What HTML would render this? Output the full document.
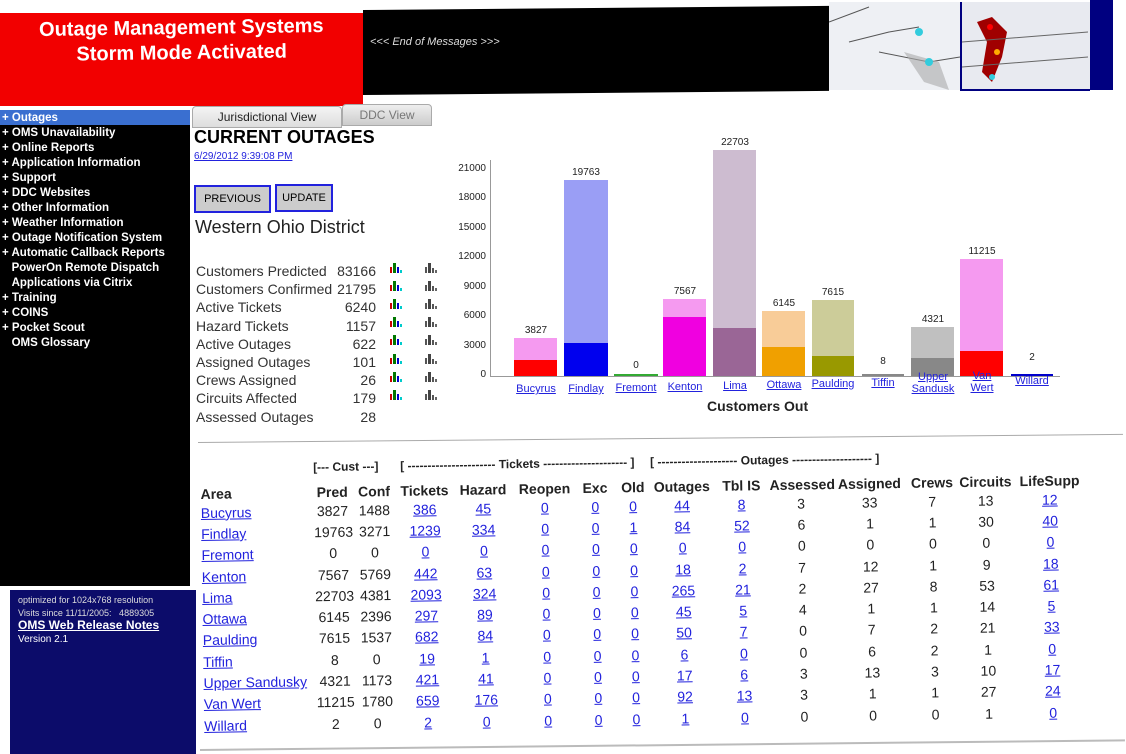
<!DOCTYPE html>
<html><head><meta charset="utf-8"><style>
body{margin:0;width:1126px;height:754px;background:#fff;position:relative;overflow:hidden;font-family:"Liberation Sans",Arial,sans-serif;}
.a{position:absolute;}
.side div{font-weight:bold;color:#fff;font-size:11.5px;height:15px;line-height:15px;white-space:nowrap;}
.stat{font-size:14px;color:#333;}
a,.lnk{color:#22d;text-decoration:underline;}
table{border-collapse:collapse;font-size:14px;color:#222;table-layout:fixed;width:885px;}
td{padding:0;height:21.3px;text-align:center;white-space:nowrap;overflow:visible;}
th{font-weight:bold;font-size:14px;padding:0;text-align:center;color:#222;white-space:nowrap;overflow:visible}
.lbl{font-size:11px;color:#22d;text-decoration:underline;text-align:center;width:60px;}
.tick{font-size:10px;color:#222;text-align:right;width:40px;}
.val{font-size:10px;color:#222;text-align:center;width:50px;}
</style></head><body>
<!-- header -->
<div class="a" style="left:0;top:13px;width:363px;height:93px;background:#f20000"></div>
<div class="a" style="left:0;top:16px;width:363px;color:#fff;font-weight:bold;font-size:20px;text-align:center;line-height:25px;transform:rotate(-0.8deg)">Outage Management Systems<br>Storm Mode Activated</div>
<div class="a" style="left:363px;top:10px;width:466px;height:85px;background:#000;transform:skewY(-0.5deg);transform-origin:left top"></div>
<div class="a" style="left:370px;top:36px;color:#ddd;font-size:11px;font-style:italic">&lt;&lt;&lt; End of Messages &gt;&gt;&gt;</div>
<div class="a" style="left:829px;top:2px;width:131px;height:88px;background:#eef0f4"></div>
<svg class="a" style="left:829px;top:2px" width="131" height="90"><path d="M0 20 L40 5 M20 40 L60 30 L90 25 M50 50 L100 60 L131 55" stroke="#555" fill="none"/><path d="M75 50 L95 80 L120 88 L110 60 Z" fill="#aaa" opacity=".6"/><circle cx="90" cy="30" r="4" fill="#3cd"/><circle cx="100" cy="60" r="4" fill="#3cd"/></svg>
<div class="a" style="left:960px;top:2px;width:128px;height:87px;background:#e8eaf0;border-left:2px solid #000080;border-bottom:2px solid #000080"></div>
<svg class="a" style="left:962px;top:2px" width="126" height="87"><path d="M15 20 L30 15 L45 30 L40 55 L30 80 L20 70 L25 40 Z" fill="#a00000"/><circle cx="28" cy="25" r="3" fill="#f00"/><circle cx="35" cy="50" r="3" fill="#fa0"/><circle cx="30" cy="75" r="3" fill="#3cd"/><path d="M0 40 L126 30 M0 65 L126 55" stroke="#666" fill="none"/></svg>
<div class="a" style="left:1090px;top:0;width:23px;height:90px;background:#000080"></div>
<!-- sidebar -->
<div class="a" style="left:0;top:110px;width:190px;height:476px;background:#000"></div>
<div class="a" style="left:0;top:110px;width:190px;height:15px;background:#3a6fd0"></div>
<div class="a side" style="left:2px;top:111px">
<div>+ Outages</div><div>+ OMS Unavailability</div><div>+ Online Reports</div><div>+ Application Information</div><div>+ Support</div><div>+ DDC Websites</div><div>+ Other Information</div><div>+ Weather Information</div><div>+ Outage Notification System</div><div>+ Automatic Callback Reports</div><div>&nbsp;&nbsp;&nbsp;PowerOn Remote Dispatch</div><div>&nbsp;&nbsp;&nbsp;Applications via Citrix</div><div>+ Training</div><div>+ COINS</div><div>+ Pocket Scout</div><div>&nbsp;&nbsp;&nbsp;OMS Glossary</div></div>
<div class="a" style="left:10px;top:590px;width:186px;height:164px;background:#0c0c6a"></div>
<div class="a" style="left:18px;top:594px;color:#ddd;font-size:9px;line-height:13px">optimized for 1024x768 resolution<br>Visits since 11/11/2005: &nbsp;&nbsp;4889305</div>
<div class="a" style="left:18px;top:618px;color:#fff;font-size:12px;font-weight:bold;text-decoration:underline">OMS Web Release Notes</div>
<div class="a" style="left:18px;top:634px;color:#fff;font-size:10px">Version 2.1</div>
<!-- tabs -->
<div class="a" style="left:192px;top:106px;width:148px;height:20px;background:linear-gradient(#f4f4f4,#ddd);border:1px solid #aaa;border-radius:4px 4px 0 0;font-size:12px;text-align:center;line-height:20px;color:#222">Jurisdictional View</div>
<div class="a" style="left:342px;top:104px;width:88px;height:20px;background:linear-gradient(#eee,#ccc);border:1px solid #aaa;border-radius:4px 4px 0 0;font-size:12px;text-align:center;line-height:20px;color:#777">DDC View</div>
<div class="a" style="left:194px;top:127px;font-size:18px;font-weight:bold">CURRENT OUTAGES</div>
<div class="a lnk" style="left:194px;top:151px;font-size:10px">6/29/2012 9:39:08 PM</div>
<div class="a" style="left:194px;top:185px;width:73px;height:24px;background:#ccc;border:2px solid #22d;font-size:11px;text-align:center;line-height:24px">PREVIOUS</div>
<div class="a" style="left:275px;top:184px;width:54px;height:24px;background:#ccc;border:2px solid #22d;font-size:11px;text-align:center;line-height:24px">UPDATE</div>
<div class="a" style="left:195px;top:217px;font-size:18px;color:#222">Western Ohio District</div>
<div class="a stat" style="left:196px;top:262px;line-height:18.2px">Customers Predicted<br>Customers Confirmed<br>Active Tickets<br>Hazard Tickets<br>Active Outages<br>Assigned Outages<br>Crews Assigned<br>Circuits Affected<br>Assessed Outages</div>
<div class="a stat" style="left:320px;top:262px;width:56px;text-align:right;line-height:18.2px">83166<br>21795<br>6240<br>1157<br>622<br>101<br>26<br>179<br>28</div>
<svg class="a" style="left:388px;top:262px" width="60" height="150">
<g id="ic"><rect x="2" y="5" width="2" height="6" fill="#c00"/><rect x="5" y="1" width="3" height="10" fill="#070"/><rect x="9" y="5" width="2" height="6" fill="#00c"/><rect x="12" y="8" width="2" height="3" fill="#0cc"/><rect x="37" y="5" width="2" height="6" fill="#555"/><rect x="40" y="1" width="3" height="10" fill="#444"/><rect x="44" y="6" width="2" height="5" fill="#555"/><rect x="47" y="8" width="2" height="3" fill="#666"/></g>
<use href="#ic" y="18"/><use href="#ic" y="36"/><use href="#ic" y="54"/><use href="#ic" y="72"/><use href="#ic" y="91"/><use href="#ic" y="109"/><use href="#ic" y="127"/></svg>
<!-- chart -->
<div class="a" style="left:490px;top:160px;width:1px;height:217px;background:#999"></div>
<div class="a" style="left:490px;top:376px;width:570px;height:1px;background:#999"></div>
<div class="a tick" style="left:446px;top:163px">21000</div>
<div class="a tick" style="left:446px;top:192px">18000</div>
<div class="a tick" style="left:446px;top:222px">15000</div>
<div class="a tick" style="left:446px;top:251px">12000</div>
<div class="a tick" style="left:446px;top:281px">9000</div>
<div class="a tick" style="left:446px;top:310px">6000</div>
<div class="a tick" style="left:446px;top:340px">3000</div>
<div class="a tick" style="left:446px;top:369px">0</div>
<svg class="a" style="left:0;top:0" width="1126" height="400">
<rect x="514" y="338" width="43" height="38" fill="#f59af0"/><rect x="514" y="360" width="43" height="16" fill="#f00"/>
<rect x="564" y="180" width="44" height="196" fill="#9a9ef5"/><rect x="564" y="343" width="44" height="33" fill="#0000ee"/>
<rect x="614" y="374" width="44" height="2" fill="#3a3"/>
<rect x="663" y="299" width="43" height="77" fill="#f59af0"/><rect x="663" y="317" width="43" height="59" fill="#f000e0"/>
<rect x="713" y="150" width="43" height="226" fill="#cdbcd0"/><rect x="713" y="328" width="43" height="48" fill="#9a6696"/>
<rect x="762" y="311" width="43" height="65" fill="#f8cc98"/><rect x="762" y="347" width="43" height="29" fill="#f0a000"/>
<rect x="812" y="300" width="42" height="76" fill="#cccc99"/><rect x="812" y="356" width="42" height="20" fill="#999900"/>
<rect x="862" y="374" width="42" height="2" fill="#888"/>
<rect x="911" y="327" width="43" height="49" fill="#c0c0c0"/><rect x="911" y="358" width="43" height="18" fill="#888"/>
<rect x="960" y="259" width="43" height="117" fill="#f59af0"/><rect x="960" y="351" width="43" height="25" fill="#f00"/>
<rect x="1011" y="374" width="42" height="2" fill="#00c"/>
</svg>
<div class="a val" style="left:511px;top:325px">3827</div>
<div class="a val" style="left:561px;top:167px">19763</div>
<div class="a val" style="left:611px;top:360px">0</div>
<div class="a val" style="left:660px;top:286px">7567</div>
<div class="a val" style="left:710px;top:137px">22703</div>
<div class="a val" style="left:759px;top:298px">6145</div>
<div class="a val" style="left:808px;top:287px">7615</div>
<div class="a val" style="left:858px;top:356px">8</div>
<div class="a val" style="left:908px;top:314px">4321</div>
<div class="a val" style="left:957px;top:246px">11215</div>
<div class="a val" style="left:1007px;top:352px">2</div>
<div class="a lbl" style="left:506px;top:383px">Bucyrus</div>
<div class="a lbl" style="left:556px;top:383px">Findlay</div>
<div class="a lbl" style="left:606px;top:382px">Fremont</div>
<div class="a lbl" style="left:655px;top:381px">Kenton</div>
<div class="a lbl" style="left:705px;top:380px">Lima</div>
<div class="a lbl" style="left:754px;top:379px">Ottawa</div>
<div class="a lbl" style="left:803px;top:378px">Paulding</div>
<div class="a lbl" style="left:853px;top:377px">Tiffin</div>
<div class="a lbl" style="left:903px;top:371px;line-height:12px">Upper<br>Sandusk</div>
<div class="a lbl" style="left:952px;top:370px;line-height:12px">Van<br>Wert</div>
<div class="a lbl" style="left:1002px;top:375px">Willard</div>
<div class="a" style="left:707px;top:398px;font-size:14px;font-weight:bold;color:#222">Customers Out</div>
<!-- separators -->
<div class="a" style="left:198px;top:442px;width:925px;height:1px;background:#aaa;transform:rotate(-0.5deg);transform-origin:left"></div>
<div class="a" style="left:200px;top:749px;width:925px;height:2px;background:#bbb;transform:rotate(-0.6deg);transform-origin:left"></div>
<!-- table -->
<div class="a" style="left:200px;top:460px;transform:rotate(-0.9deg);transform-origin:left top">
<table>
<colgroup><col style="width:112px"><col style="width:37px"><col style="width:46px"><col style="width:54px"><col style="width:62px"><col style="width:60px"><col style="width:40px"><col style="width:35px"><col style="width:62px"><col style="width:56px"><col style="width:62px"><col style="width:74px"><col style="width:50px"><col style="width:56px"><col style="width:71px"></colgroup>
<tr style="height:18px"><th></th><th colspan="2" style="font-size:12px;text-align:left">[--- Cust ---]</th><th colspan="5" style="font-size:12px;text-align:left">&nbsp;[ ---------------------- Tickets --------------------- ]</th><th colspan="4" style="font-size:12px;text-align:left">[ -------------------- Outages -------------------- ]</th><th colspan="3"></th></tr>
<tr style="height:24px;vertical-align:bottom"><th style="text-align:left">Area</th><th>Pred</th><th>Conf</th><th>Tickets</th><th>Hazard</th><th>Reopen</th><th>Exc</th><th>Old</th><th>Outages</th><th>Tbl IS</th><th>Assessed</th><th>Assigned</th><th>Crews</th><th>Circuits</th><th>LifeSupp</th></tr>
<tr><td style="text-align:left"><a>Bucyrus </a></td><td>3827</td><td>1488</td><td><a>386</a></td><td><a>45</a></td><td><a>0</a></td><td><a>0</a></td><td><a>0</a></td><td><a>44</a></td><td><a>8</a></td><td>3</td><td>33</td><td>7</td><td>13</td><td><a>12</a></td></tr>
<tr><td style="text-align:left"><a>Findlay </a></td><td>19763</td><td>3271</td><td><a>1239</a></td><td><a>334</a></td><td><a>0</a></td><td><a>0</a></td><td><a>1</a></td><td><a>84</a></td><td><a>52</a></td><td>6</td><td>1</td><td>1</td><td>30</td><td><a>40</a></td></tr>
<tr><td style="text-align:left"><a>Fremont </a></td><td>0</td><td>0</td><td><a>0</a></td><td><a>0</a></td><td><a>0</a></td><td><a>0</a></td><td><a>0</a></td><td><a>0</a></td><td><a>0</a></td><td>0</td><td>0</td><td>0</td><td>0</td><td><a>0</a></td></tr>
<tr><td style="text-align:left"><a>Kenton </a></td><td>7567</td><td>5769</td><td><a>442</a></td><td><a>63</a></td><td><a>0</a></td><td><a>0</a></td><td><a>0</a></td><td><a>18</a></td><td><a>2</a></td><td>7</td><td>12</td><td>1</td><td>9</td><td><a>18</a></td></tr>
<tr><td style="text-align:left"><a>Lima </a></td><td>22703</td><td>4381</td><td><a>2093</a></td><td><a>324</a></td><td><a>0</a></td><td><a>0</a></td><td><a>0</a></td><td><a>265</a></td><td><a>21</a></td><td>2</td><td>27</td><td>8</td><td>53</td><td><a>61</a></td></tr>
<tr><td style="text-align:left"><a>Ottawa </a></td><td>6145</td><td>2396</td><td><a>297</a></td><td><a>89</a></td><td><a>0</a></td><td><a>0</a></td><td><a>0</a></td><td><a>45</a></td><td><a>5</a></td><td>4</td><td>1</td><td>1</td><td>14</td><td><a>5</a></td></tr>
<tr><td style="text-align:left"><a>Paulding </a></td><td>7615</td><td>1537</td><td><a>682</a></td><td><a>84</a></td><td><a>0</a></td><td><a>0</a></td><td><a>0</a></td><td><a>50</a></td><td><a>7</a></td><td>0</td><td>7</td><td>2</td><td>21</td><td><a>33</a></td></tr>
<tr><td style="text-align:left"><a>Tiffin </a></td><td>8</td><td>0</td><td><a>19</a></td><td><a>1</a></td><td><a>0</a></td><td><a>0</a></td><td><a>0</a></td><td><a>6</a></td><td><a>0</a></td><td>0</td><td>6</td><td>2</td><td>1</td><td><a>0</a></td></tr>
<tr><td style="text-align:left"><a>Upper Sandusky</a></td><td>4321</td><td>1173</td><td><a>421</a></td><td><a>41</a></td><td><a>0</a></td><td><a>0</a></td><td><a>0</a></td><td><a>17</a></td><td><a>6</a></td><td>3</td><td>13</td><td>3</td><td>10</td><td><a>17</a></td></tr>
<tr><td style="text-align:left"><a>Van Wert </a></td><td>11215</td><td>1780</td><td><a>659</a></td><td><a>176</a></td><td><a>0</a></td><td><a>0</a></td><td><a>0</a></td><td><a>92</a></td><td><a>13</a></td><td>3</td><td>1</td><td>1</td><td>27</td><td><a>24</a></td></tr>
<tr><td style="text-align:left"><a>Willard </a></td><td>2</td><td>0</td><td><a>2</a></td><td><a>0</a></td><td><a>0</a></td><td><a>0</a></td><td><a>0</a></td><td><a>1</a></td><td><a>0</a></td><td>0</td><td>0</td><td>0</td><td>1</td><td><a>0</a></td></tr>
</table></div>
</body></html>
